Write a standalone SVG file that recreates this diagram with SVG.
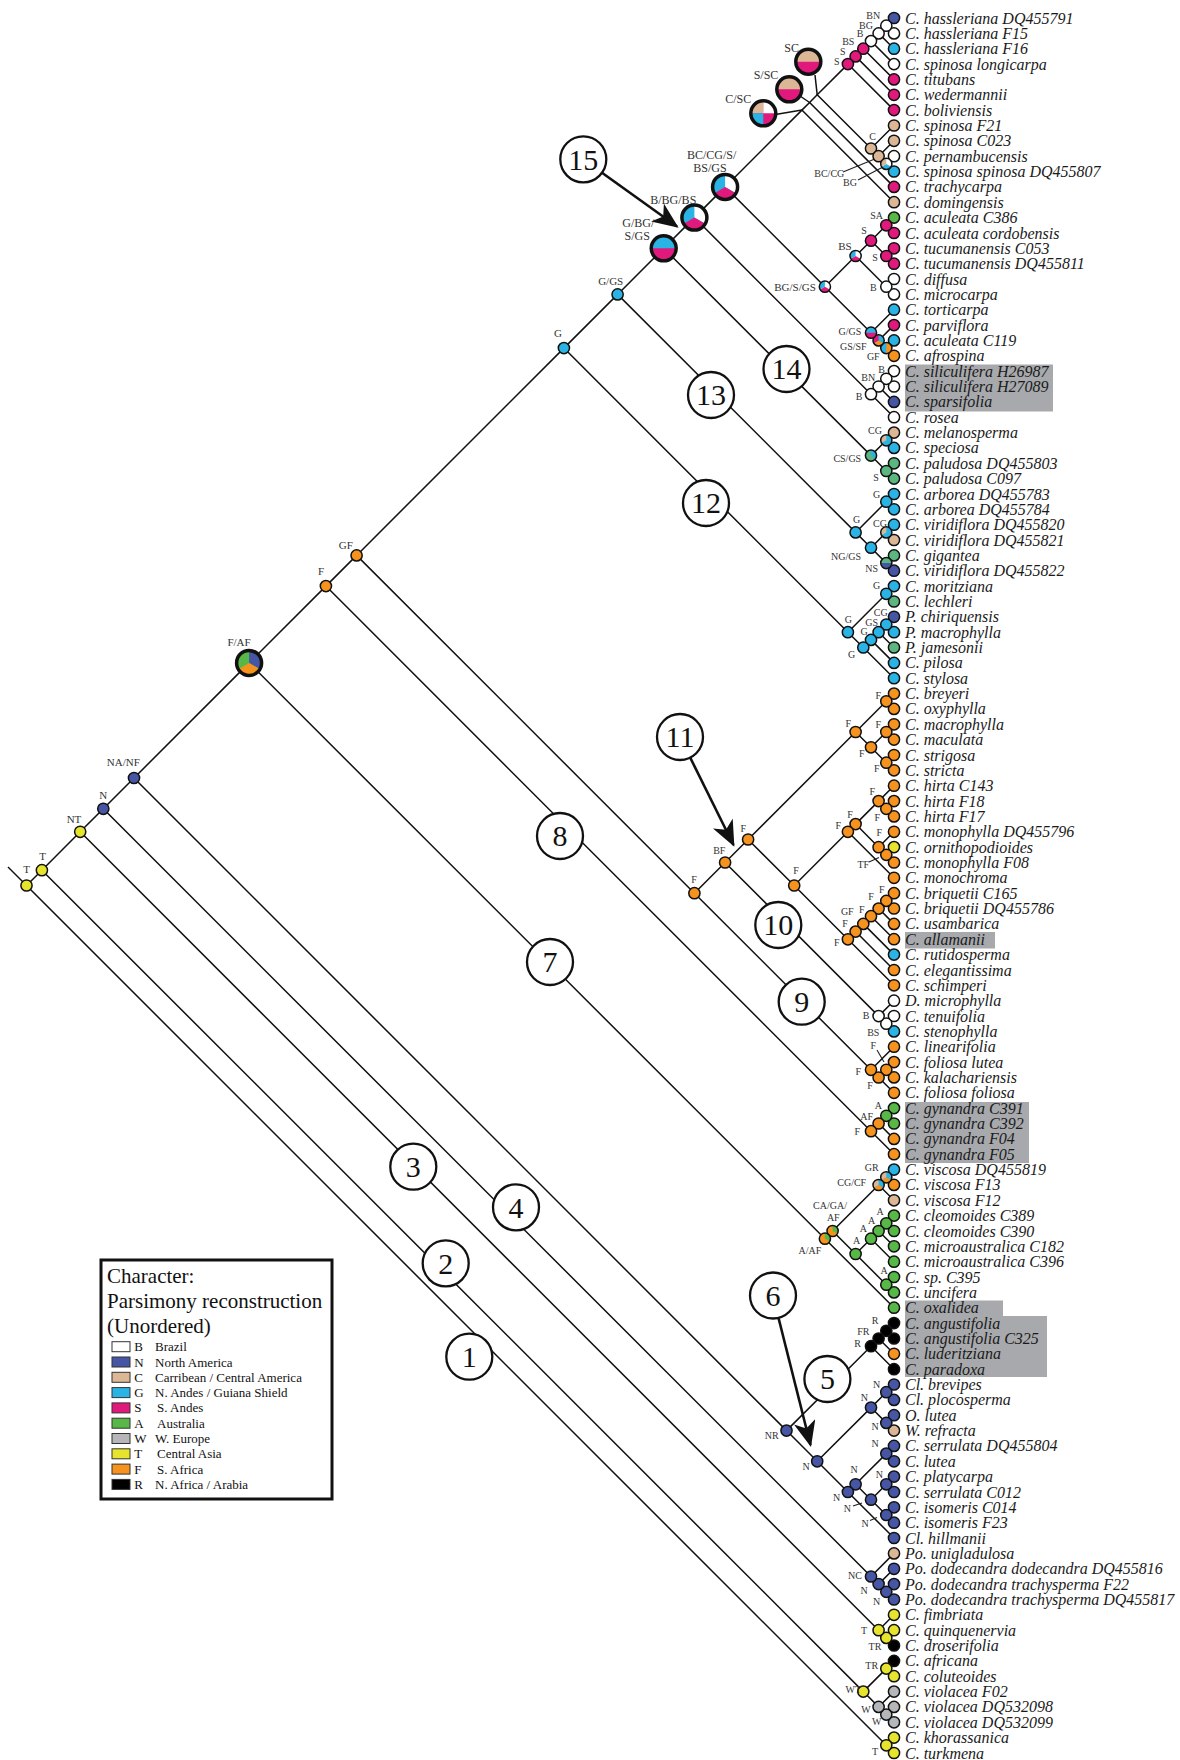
<svg xmlns="http://www.w3.org/2000/svg" width="1180" height="1760" viewBox="0 0 1180 1760">
<style>
.ln{fill:none;stroke:#111;stroke-width:1.5}
.ld{fill:none;stroke:#222;stroke-width:1.1}
.nd{stroke:#111;stroke-width:1.5}
.ol{fill:none;stroke:#111;stroke-width:1.5}
.olb{fill:none;stroke:#111;stroke-width:3.5}
.B{fill:#ffffff}.N{fill:#4656a5}.C{fill:#dcb795}.G{fill:#2ab4e6}.S{fill:#e2197c}.A{fill:#57b847}.A2{fill:#5bb67f}.W{fill:#b4b6b9}.T{fill:#e6e42c}.F{fill:#f6921e}.R{fill:#000000}
.tx{font-family:"Liberation Serif",serif;font-style:italic;font-size:16px;fill:#1a1a1a}
.lb{font-family:"Liberation Serif",serif;font-size:10px;fill:#333;text-anchor:middle}
.lm{font-family:"Liberation Serif",serif;font-size:11px;fill:#333;text-anchor:middle}
.lg{font-family:"Liberation Serif",serif;font-size:12px;fill:#333;text-anchor:middle}
.nc{fill:#fff;stroke:#111;stroke-width:2.3}
.num{font-family:"Liberation Serif",serif;font-size:30px;fill:#111;text-anchor:middle}
.hl{fill:#a7a9ac}
.arr{fill:none;stroke:#111;stroke-width:2.6}
.lgt{font-family:"Liberation Serif",serif;font-size:21px;fill:#111}
.lgi{font-family:"Liberation Serif",serif;font-size:13px;fill:#111}
.sw{stroke:#333;stroke-width:1}
</style>
<defs>
<marker id="ah" markerUnits="userSpaceOnUse" markerWidth="30" markerHeight="24" refX="24" refY="11" orient="auto"><path d="M0,0 L26,11 L0,22 L7,11 Z" fill="#111"/></marker>
<path id="sT" d="M-5.6 0A5.6 5.6 0 0 1 5.6 0Z"/>
<path id="sL" d="M0 -5.6A5.6 5.6 0 0 0 0 5.6Z"/>
<path id="s1" d="M0 0L0 -5.6A5.6 5.6 0 0 1 4.85 2.8Z"/>
<path id="s2" d="M0 0L4.85 2.8A5.6 5.6 0 0 1 -4.85 2.8Z"/>
<path id="s3" d="M0 0L-4.85 2.8A5.6 5.6 0 0 1 0 -5.6Z"/>
<path id="bT" d="M-12.5 0A12.5 12.5 0 0 1 12.5 0Z"/>
<path id="b1" d="M0 0L0 -12.5A12.5 12.5 0 0 1 10.83 6.25Z"/>
<path id="b2" d="M0 0L10.83 6.25A12.5 12.5 0 0 1 -10.83 6.25Z"/>
<path id="qTL" d="M0 0L-12.5 0A12.5 12.5 0 0 1 0 -12.5Z"/>
<path id="qTR" d="M0 0L0 -12.5A12.5 12.5 0 0 1 12.5 0Z"/>
<path id="qBL" d="M0 0L0 12.5A12.5 12.5 0 0 1 -12.5 0Z"/>
</defs>
<rect width="1180" height="1760" fill="#fff"/>
<g id="highlights">
<rect class="hl" x="905" y="364.5" width="148" height="47"/>
<rect class="hl" x="905" y="932" width="90" height="16.5"/>
<rect class="hl" x="905" y="1102" width="124" height="61"/>
<rect class="hl" x="905" y="1300.5" width="98" height="17"/>
<rect class="hl" x="905" y="1316" width="142" height="61"/>
</g>
<g id="connectors">
<path class="ln" d="M8 867L26.5 885.5"/>
<path class="ln" d="M894 18L886.3 25.7L894 33.4"/>
<path class="ln" d="M886.3 25.7L878.6 33.4L894 48.7"/>
<path class="ln" d="M878.6 33.4L871 41.1L894 64.1"/>
<path class="ln" d="M871 41.1L863.3 48.7L894 79.4"/>
<path class="ln" d="M863.3 48.7L855.6 56.4L894 94.8"/>
<path class="ln" d="M855.6 56.4L847.9 64.1L894 110.1"/>
<path class="ln" d="M894 156.2L886.3 163.9L894 171.5"/>
<path class="ln" d="M894 140.8L878.6 156.2L886.3 163.9"/>
<path class="ln" d="M894 125.5L871 148.5L878.6 156.2"/>
<path class="ln" d="M847.9 64.1L817.2 94.8L871 148.5"/>
<path class="ln" d="M817.2 94.8L809.6 102.5L894 186.9"/>
<path class="ln" d="M809.6 102.5L801.9 110.1L894 202.2"/>
<path class="ln" d="M894 217.6L886.3 225.3L894 233"/>
<path class="ln" d="M894 248.3L886.3 256L894 263.7"/>
<path class="ln" d="M886.3 225.3L871 240.7L886.3 256"/>
<path class="ln" d="M894 279L886.3 286.7L894 294.4"/>
<path class="ln" d="M871 240.7L855.6 256L886.3 286.7"/>
<path class="ln" d="M894 340.4L886.3 348.1L894 355.8"/>
<path class="ln" d="M894 325.1L878.6 340.4L886.3 348.1"/>
<path class="ln" d="M894 309.7L871 332.7L878.6 340.4"/>
<path class="ln" d="M855.6 256L824.9 286.7L871 332.7"/>
<path class="ln" d="M801.9 110.1L725.1 186.9L824.9 286.7"/>
<path class="ln" d="M894 371.1L886.3 378.8L894 386.5"/>
<path class="ln" d="M886.3 378.8L878.6 386.5L894 401.9"/>
<path class="ln" d="M878.6 386.5L871 394.2L894 417.2"/>
<path class="ln" d="M725.1 186.9L694.4 217.6L871 394.2"/>
<path class="ln" d="M894 432.6L886.3 440.3L894 447.9"/>
<path class="ln" d="M894 463.3L886.3 471L894 478.6"/>
<path class="ln" d="M886.3 440.3L871 455.6L886.3 471"/>
<path class="ln" d="M694.4 217.6L663.7 248.3L871 455.6"/>
<path class="ln" d="M894 494L886.3 501.7L894 509.3"/>
<path class="ln" d="M894 524.7L886.3 532.4L894 540"/>
<path class="ln" d="M894 555.4L886.3 563.1L894 570.7"/>
<path class="ln" d="M886.3 532.4L871 547.7L886.3 563.1"/>
<path class="ln" d="M886.3 501.7L855.6 532.4L871 547.7"/>
<path class="ln" d="M663.7 248.3L617.6 294.4L855.6 532.4"/>
<path class="ln" d="M894 586.1L886.3 593.8L894 601.5"/>
<path class="ln" d="M894 616.8L886.3 624.5L894 632.2"/>
<path class="ln" d="M886.3 624.5L878.6 632.2L894 647.5"/>
<path class="ln" d="M878.6 632.2L871 639.9L894 662.9"/>
<path class="ln" d="M871 639.9L863.3 647.5L894 678.2"/>
<path class="ln" d="M886.3 593.8L847.9 632.2L863.3 647.5"/>
<path class="ln" d="M617.6 294.4L563.9 348.1L847.9 632.2"/>
<path class="ln" d="M894 693.6L886.3 701.3L894 708.9"/>
<path class="ln" d="M894 724.3L886.3 732L894 739.6"/>
<path class="ln" d="M894 755L886.3 762.7L894 770.3"/>
<path class="ln" d="M886.3 732L871 747.3L886.3 762.7"/>
<path class="ln" d="M886.3 701.3L855.6 732L871 747.3"/>
<path class="ln" d="M894 801.1L886.3 808.8L894 816.4"/>
<path class="ln" d="M894 785.7L878.6 801.1L886.3 808.8"/>
<path class="ln" d="M894 847.1L886.3 854.8L894 862.5"/>
<path class="ln" d="M894 831.8L878.6 847.2L886.3 854.8"/>
<path class="ln" d="M878.6 801.1L855.6 824.1L878.6 847.2"/>
<path class="ln" d="M855.6 824.1L847.9 831.8L894 877.8"/>
<path class="ln" d="M894 893.2L886.3 900.9L894 908.5"/>
<path class="ln" d="M886.3 900.9L878.6 908.6L894 923.9"/>
<path class="ln" d="M878.6 908.6L871 916.2L894 939.2"/>
<path class="ln" d="M871 916.2L863.3 923.9L894 954.6"/>
<path class="ln" d="M863.3 923.9L855.6 931.6L894 970"/>
<path class="ln" d="M855.6 931.6L847.9 939.3L894 985.3"/>
<path class="ln" d="M847.9 831.8L794.2 885.5L847.9 939.3"/>
<path class="ln" d="M855.6 732L748.1 839.5L794.2 885.5"/>
<path class="ln" d="M894 1016L886.3 1023.7L894 1031.4"/>
<path class="ln" d="M894 1000.7L878.6 1016.1L886.3 1023.7"/>
<path class="ln" d="M748.1 839.5L725.1 862.5L878.6 1016.1"/>
<path class="ln" d="M894 1062.1L886.3 1069.8L894 1077.4"/>
<path class="ln" d="M886.3 1069.8L878.6 1077.5L894 1092.8"/>
<path class="ln" d="M894 1046.7L871 1069.8L878.6 1077.5"/>
<path class="ln" d="M725.1 862.5L694.4 893.2L871 1069.8"/>
<path class="ln" d="M563.9 348.1L356.6 555.4L694.4 893.2"/>
<path class="ln" d="M894 1108.1L886.3 1115.8L894 1123.5"/>
<path class="ln" d="M886.3 1115.8L878.6 1123.5L894 1138.9"/>
<path class="ln" d="M878.6 1123.5L871 1131.2L894 1154.2"/>
<path class="ln" d="M356.6 555.4L325.9 586.1L871 1131.2"/>
<path class="ln" d="M894 1169.6L886.3 1177.3L894 1184.9"/>
<path class="ln" d="M886.3 1177.3L878.6 1185L894 1200.3"/>
<path class="ln" d="M894 1215.6L886.3 1223.3L894 1231"/>
<path class="ln" d="M886.3 1223.3L878.6 1231L894 1246.3"/>
<path class="ln" d="M878.6 1231L871 1238.7L894 1261.7"/>
<path class="ln" d="M894 1277L886.3 1284.7L894 1292.4"/>
<path class="ln" d="M871 1238.7L855.6 1254L886.3 1284.7"/>
<path class="ln" d="M878.6 1185L832.6 1231L855.6 1254"/>
<path class="ln" d="M832.6 1231L824.9 1238.7L894 1307.7"/>
<path class="ln" d="M325.9 586.1L249.1 662.9L824.9 1238.7"/>
<path class="ln" d="M894 1323.1L886.3 1330.8L894 1338.5"/>
<path class="ln" d="M886.3 1330.8L878.6 1338.5L894 1353.8"/>
<path class="ln" d="M878.6 1338.5L871 1346.2L894 1369.2"/>
<path class="ln" d="M894 1384.5L886.3 1392.2L894 1399.9"/>
<path class="ln" d="M894 1415.2L886.3 1422.9L894 1430.6"/>
<path class="ln" d="M886.3 1392.2L871 1407.6L886.3 1422.9"/>
<path class="ln" d="M894 1445.9L886.3 1453.6L894 1461.3"/>
<path class="ln" d="M894 1476.6L886.3 1484.3L894 1492"/>
<path class="ln" d="M894 1507.3L886.3 1515L894 1522.7"/>
<path class="ln" d="M886.3 1484.3L871 1499.7L886.3 1515"/>
<path class="ln" d="M886.3 1453.6L855.6 1484.3L871 1499.7"/>
<path class="ln" d="M855.6 1484.3L847.9 1492L894 1538"/>
<path class="ln" d="M871 1407.6L817.2 1461.3L847.9 1492"/>
<path class="ln" d="M871 1346.2L786.5 1430.6L817.2 1461.3"/>
<path class="ln" d="M249.1 662.9L134 778L786.5 1430.6"/>
<path class="ln" d="M894 1584.1L886.3 1591.8L894 1599.5"/>
<path class="ln" d="M894 1568.8L878.6 1584.1L886.3 1591.8"/>
<path class="ln" d="M894 1553.4L871 1576.5L878.6 1584.1"/>
<path class="ln" d="M134 778L103.3 808.8L871 1576.5"/>
<path class="ln" d="M894 1630.2L886.3 1637.9L894 1645.5"/>
<path class="ln" d="M894 1614.8L878.6 1630.2L886.3 1637.9"/>
<path class="ln" d="M103.3 808.8L80.2 831.8L878.6 1630.2"/>
<path class="ln" d="M894 1660.9L886.3 1668.6L894 1676.2"/>
<path class="ln" d="M894 1706.9L886.3 1714.6L894 1722.3"/>
<path class="ln" d="M894 1691.6L878.6 1706.9L886.3 1714.6"/>
<path class="ln" d="M886.3 1668.6L863.3 1691.6L878.6 1706.9"/>
<path class="ln" d="M80.2 831.8L41.9 870.2L863.3 1691.6"/>
<path class="ln" d="M894 1737.6L886.3 1745.3L894 1753"/>
<path class="ln" d="M41.9 870.2L26.5 885.5L886.3 1745.3"/>
<path class="ln" d="M815 75L817.2 94.8"/>
<path class="ln" d="M800 96L809.6 102.5"/>
<path class="ln" d="M775.5 114.5L801.9 110.1"/>
<path class="ld" d="M843 172L876 158.5"/>
<path class="ld" d="M858 180L883 167"/>
<path class="ld" d="M869 862L879 857.5"/>
<path class="ld" d="M877 1050L884 1062"/>
<path class="ld" d="M853 1506L862 1503"/>
<path class="ld" d="M870 1520.5L877 1517.5"/>
</g>
<g id="leaves">
<g id="L0"><circle class="nd N" cx="894" cy="18" r="5.6"/><text class="tx" x="905" y="23.5">C. hassleriana DQ455791</text></g>
<g id="L1"><circle class="nd B" cx="894" cy="33.4" r="5.6"/><text class="tx" x="905" y="38.9">C. hassleriana F15</text></g>
<g id="L2"><circle class="nd G" cx="894" cy="48.7" r="5.6"/><text class="tx" x="905" y="54.2">C. hassleriana F16</text></g>
<g id="L3"><circle class="nd B" cx="894" cy="64.1" r="5.6"/><text class="tx" x="905" y="69.6">C. spinosa longicarpa</text></g>
<g id="L4"><circle class="nd S" cx="894" cy="79.4" r="5.6"/><text class="tx" x="905" y="84.9">C. titubans</text></g>
<g id="L5"><circle class="nd S" cx="894" cy="94.8" r="5.6"/><text class="tx" x="905" y="100.3">C. wedermannii</text></g>
<g id="L6"><circle class="nd S" cx="894" cy="110.1" r="5.6"/><text class="tx" x="905" y="115.6">C. boliviensis</text></g>
<g id="L7"><circle class="nd C" cx="894" cy="125.5" r="5.6"/><text class="tx" x="905" y="131">C. spinosa F21</text></g>
<g id="L8"><circle class="nd C" cx="894" cy="140.8" r="5.6"/><text class="tx" x="905" y="146.3">C. spinosa C023</text></g>
<g id="L9"><circle class="nd B" cx="894" cy="156.2" r="5.6"/><text class="tx" x="905" y="161.7">C. pernambucensis</text></g>
<g id="L10"><circle class="nd G" cx="894" cy="171.5" r="5.6"/><text class="tx" x="905" y="177">C. spinosa spinosa DQ455807</text></g>
<g id="L11"><circle class="nd S" cx="894" cy="186.9" r="5.6"/><text class="tx" x="905" y="192.4">C. trachycarpa</text></g>
<g id="L12"><circle class="nd C" cx="894" cy="202.2" r="5.6"/><text class="tx" x="905" y="207.7">C. domingensis</text></g>
<g id="L13"><circle class="nd A" cx="894" cy="217.6" r="5.6"/><text class="tx" x="905" y="223.1">C. aculeata C386</text></g>
<g id="L14"><circle class="nd S" cx="894" cy="233" r="5.6"/><text class="tx" x="905" y="238.5">C. aculeata cordobensis</text></g>
<g id="L15"><circle class="nd S" cx="894" cy="248.3" r="5.6"/><text class="tx" x="905" y="253.8">C. tucumanensis C053</text></g>
<g id="L16"><circle class="nd S" cx="894" cy="263.7" r="5.6"/><text class="tx" x="905" y="269.2">C. tucumanensis DQ455811</text></g>
<g id="L17"><circle class="nd B" cx="894" cy="279" r="5.6"/><text class="tx" x="905" y="284.5">C. diffusa</text></g>
<g id="L18"><circle class="nd B" cx="894" cy="294.4" r="5.6"/><text class="tx" x="905" y="299.9">C. microcarpa</text></g>
<g id="L19"><circle class="nd G" cx="894" cy="309.7" r="5.6"/><text class="tx" x="905" y="315.2">C. torticarpa</text></g>
<g id="L20"><circle class="nd S" cx="894" cy="325.1" r="5.6"/><text class="tx" x="905" y="330.6">C. parviflora</text></g>
<g id="L21"><circle class="nd G" cx="894" cy="340.4" r="5.6"/><text class="tx" x="905" y="345.9">C. aculeata C119</text></g>
<g id="L22"><circle class="nd F" cx="894" cy="355.8" r="5.6"/><text class="tx" x="905" y="361.3">C. afrospina</text></g>
<g id="L23"><circle class="nd B" cx="894" cy="371.1" r="5.6"/><text class="tx" x="905" y="376.6">C. siliculifera H26987</text></g>
<g id="L24"><circle class="nd B" cx="894" cy="386.5" r="5.6"/><text class="tx" x="905" y="392">C. siliculifera H27089</text></g>
<g id="L25"><circle class="nd N" cx="894" cy="401.9" r="5.6"/><text class="tx" x="905" y="407.4">C. sparsifolia</text></g>
<g id="L26"><circle class="nd B" cx="894" cy="417.2" r="5.6"/><text class="tx" x="905" y="422.7">C. rosea</text></g>
<g id="L27"><circle class="nd C" cx="894" cy="432.6" r="5.6"/><text class="tx" x="905" y="438.1">C. melanosperma</text></g>
<g id="L28"><circle class="nd G" cx="894" cy="447.9" r="5.6"/><text class="tx" x="905" y="453.4">C. speciosa</text></g>
<g id="L29"><circle class="nd A2" cx="894" cy="463.3" r="5.6"/><text class="tx" x="905" y="468.8">C. paludosa DQ455803</text></g>
<g id="L30"><circle class="nd A2" cx="894" cy="478.6" r="5.6"/><text class="tx" x="905" y="484.1">C. paludosa C097</text></g>
<g id="L31"><circle class="nd G" cx="894" cy="494" r="5.6"/><text class="tx" x="905" y="499.5">C. arborea DQ455783</text></g>
<g id="L32"><circle class="nd G" cx="894" cy="509.3" r="5.6"/><text class="tx" x="905" y="514.8">C. arborea DQ455784</text></g>
<g id="L33"><circle class="nd G" cx="894" cy="524.7" r="5.6"/><text class="tx" x="905" y="530.2">C. viridiflora DQ455820</text></g>
<g id="L34"><circle class="nd C" cx="894" cy="540" r="5.6"/><text class="tx" x="905" y="545.5">C. viridiflora DQ455821</text></g>
<g id="L35"><circle class="nd A2" cx="894" cy="555.4" r="5.6"/><text class="tx" x="905" y="560.9">C. gigantea</text></g>
<g id="L36"><circle class="nd N" cx="894" cy="570.7" r="5.6"/><text class="tx" x="905" y="576.2">C. viridiflora DQ455822</text></g>
<g id="L37"><circle class="nd G" cx="894" cy="586.1" r="5.6"/><text class="tx" x="905" y="591.6">C. moritziana</text></g>
<g id="L38"><circle class="nd A2" cx="894" cy="601.5" r="5.6"/><text class="tx" x="905" y="607">C. lechleri</text></g>
<g id="L39"><circle class="nd N" cx="894" cy="616.8" r="5.6"/><text class="tx" x="905" y="622.3">P. chiriquensis</text></g>
<g id="L40"><circle class="nd G" cx="894" cy="632.2" r="5.6"/><text class="tx" x="905" y="637.7">P. macrophylla</text></g>
<g id="L41"><circle class="nd A2" cx="894" cy="647.5" r="5.6"/><text class="tx" x="905" y="653">P. jamesonii</text></g>
<g id="L42"><circle class="nd G" cx="894" cy="662.9" r="5.6"/><text class="tx" x="905" y="668.4">C. pilosa</text></g>
<g id="L43"><circle class="nd G" cx="894" cy="678.2" r="5.6"/><text class="tx" x="905" y="683.7">C. stylosa</text></g>
<g id="L44"><circle class="nd F" cx="894" cy="693.6" r="5.6"/><text class="tx" x="905" y="699.1">C. breyeri</text></g>
<g id="L45"><circle class="nd F" cx="894" cy="708.9" r="5.6"/><text class="tx" x="905" y="714.4">C. oxyphylla</text></g>
<g id="L46"><circle class="nd F" cx="894" cy="724.3" r="5.6"/><text class="tx" x="905" y="729.8">C. macrophylla</text></g>
<g id="L47"><circle class="nd F" cx="894" cy="739.6" r="5.6"/><text class="tx" x="905" y="745.1">C. maculata</text></g>
<g id="L48"><circle class="nd F" cx="894" cy="755" r="5.6"/><text class="tx" x="905" y="760.5">C. strigosa</text></g>
<g id="L49"><circle class="nd F" cx="894" cy="770.3" r="5.6"/><text class="tx" x="905" y="775.8">C. stricta</text></g>
<g id="L50"><circle class="nd F" cx="894" cy="785.7" r="5.6"/><text class="tx" x="905" y="791.2">C. hirta C143</text></g>
<g id="L51"><circle class="nd F" cx="894" cy="801.1" r="5.6"/><text class="tx" x="905" y="806.6">C. hirta F18</text></g>
<g id="L52"><circle class="nd F" cx="894" cy="816.4" r="5.6"/><text class="tx" x="905" y="821.9">C. hirta F17</text></g>
<g id="L53"><circle class="nd F" cx="894" cy="831.8" r="5.6"/><text class="tx" x="905" y="837.3">C. monophylla DQ455796</text></g>
<g id="L54"><circle class="nd T" cx="894" cy="847.1" r="5.6"/><text class="tx" x="905" y="852.6">C. ornithopodioides</text></g>
<g id="L55"><circle class="nd F" cx="894" cy="862.5" r="5.6"/><text class="tx" x="905" y="868">C. monophylla F08</text></g>
<g id="L56"><circle class="nd F" cx="894" cy="877.8" r="5.6"/><text class="tx" x="905" y="883.3">C. monochroma</text></g>
<g id="L57"><circle class="nd F" cx="894" cy="893.2" r="5.6"/><text class="tx" x="905" y="898.7">C. briquetii C165</text></g>
<g id="L58"><circle class="nd F" cx="894" cy="908.5" r="5.6"/><text class="tx" x="905" y="914">C. briquetii DQ455786</text></g>
<g id="L59"><circle class="nd F" cx="894" cy="923.9" r="5.6"/><text class="tx" x="905" y="929.4">C. usambarica</text></g>
<g id="L60"><circle class="nd F" cx="894" cy="939.2" r="5.6"/><text class="tx" x="905" y="944.7">C. allamanii</text></g>
<g id="L61"><circle class="nd G" cx="894" cy="954.6" r="5.6"/><text class="tx" x="905" y="960.1">C. rutidosperma</text></g>
<g id="L62"><circle class="nd F" cx="894" cy="970" r="5.6"/><text class="tx" x="905" y="975.5">C. elegantissima</text></g>
<g id="L63"><circle class="nd F" cx="894" cy="985.3" r="5.6"/><text class="tx" x="905" y="990.8">C. schimperi</text></g>
<g id="L64"><circle class="nd B" cx="894" cy="1000.7" r="5.6"/><text class="tx" x="905" y="1006.2">D. microphylla</text></g>
<g id="L65"><circle class="nd B" cx="894" cy="1016" r="5.6"/><text class="tx" x="905" y="1021.5">C. tenuifolia</text></g>
<g id="L66"><circle class="nd G" cx="894" cy="1031.4" r="5.6"/><text class="tx" x="905" y="1036.9">C. stenophylla</text></g>
<g id="L67"><circle class="nd F" cx="894" cy="1046.7" r="5.6"/><text class="tx" x="905" y="1052.2">C. linearifolia</text></g>
<g id="L68"><circle class="nd F" cx="894" cy="1062.1" r="5.6"/><text class="tx" x="905" y="1067.6">C. foliosa lutea</text></g>
<g id="L69"><circle class="nd F" cx="894" cy="1077.4" r="5.6"/><text class="tx" x="905" y="1082.9">C. kalachariensis</text></g>
<g id="L70"><circle class="nd F" cx="894" cy="1092.8" r="5.6"/><text class="tx" x="905" y="1098.3">C. foliosa foliosa</text></g>
<g id="L71"><circle class="nd A" cx="894" cy="1108.1" r="5.6"/><text class="tx" x="905" y="1113.6">C. gynandra C391</text></g>
<g id="L72"><circle class="nd A" cx="894" cy="1123.5" r="5.6"/><text class="tx" x="905" y="1129">C. gynandra C392</text></g>
<g id="L73"><circle class="nd F" cx="894" cy="1138.9" r="5.6"/><text class="tx" x="905" y="1144.4">C. gynandra F04</text></g>
<g id="L74"><circle class="nd F" cx="894" cy="1154.2" r="5.6"/><text class="tx" x="905" y="1159.7">C. gynandra F05</text></g>
<g id="L75"><circle class="nd G" cx="894" cy="1169.6" r="5.6"/><text class="tx" x="905" y="1175.1">C. viscosa DQ455819</text></g>
<g id="L76"><circle class="nd F" cx="894" cy="1184.9" r="5.6"/><text class="tx" x="905" y="1190.4">C. viscosa F13</text></g>
<g id="L77"><circle class="nd C" cx="894" cy="1200.3" r="5.6"/><text class="tx" x="905" y="1205.8">C. viscosa F12</text></g>
<g id="L78"><circle class="nd A" cx="894" cy="1215.6" r="5.6"/><text class="tx" x="905" y="1221.1">C. cleomoides C389</text></g>
<g id="L79"><circle class="nd A" cx="894" cy="1231" r="5.6"/><text class="tx" x="905" y="1236.5">C. cleomoides C390</text></g>
<g id="L80"><circle class="nd A" cx="894" cy="1246.3" r="5.6"/><text class="tx" x="905" y="1251.8">C. microaustralica C182</text></g>
<g id="L81"><circle class="nd A" cx="894" cy="1261.7" r="5.6"/><text class="tx" x="905" y="1267.2">C. microaustralica C396</text></g>
<g id="L82"><circle class="nd A" cx="894" cy="1277" r="5.6"/><text class="tx" x="905" y="1282.5">C. sp. C395</text></g>
<g id="L83"><circle class="nd A" cx="894" cy="1292.4" r="5.6"/><text class="tx" x="905" y="1297.9">C. uncifera</text></g>
<g id="L84"><circle class="nd A" cx="894" cy="1307.7" r="5.6"/><text class="tx" x="905" y="1313.2">C. oxalidea</text></g>
<g id="L85"><circle class="nd R" cx="894" cy="1323.1" r="5.6"/><text class="tx" x="905" y="1328.6">C. angustifolia</text></g>
<g id="L86"><circle class="nd R" cx="894" cy="1338.5" r="5.6"/><text class="tx" x="905" y="1344">C. angustifolia C325</text></g>
<g id="L87"><circle class="nd F" cx="894" cy="1353.8" r="5.6"/><text class="tx" x="905" y="1359.3">C. luderitziana</text></g>
<g id="L88"><circle class="nd R" cx="894" cy="1369.2" r="5.6"/><text class="tx" x="905" y="1374.7">C. paradoxa</text></g>
<g id="L89"><circle class="nd N" cx="894" cy="1384.5" r="5.6"/><text class="tx" x="905" y="1390">Cl. brevipes</text></g>
<g id="L90"><circle class="nd N" cx="894" cy="1399.9" r="5.6"/><text class="tx" x="905" y="1405.4">Cl. plocosperma</text></g>
<g id="L91"><circle class="nd N" cx="894" cy="1415.2" r="5.6"/><text class="tx" x="905" y="1420.7">O. lutea</text></g>
<g id="L92"><circle class="nd C" cx="894" cy="1430.6" r="5.6"/><text class="tx" x="905" y="1436.1">W. refracta</text></g>
<g id="L93"><circle class="nd N" cx="894" cy="1445.9" r="5.6"/><text class="tx" x="905" y="1451.4">C. serrulata DQ455804</text></g>
<g id="L94"><circle class="nd N" cx="894" cy="1461.3" r="5.6"/><text class="tx" x="905" y="1466.8">C. lutea</text></g>
<g id="L95"><circle class="nd N" cx="894" cy="1476.6" r="5.6"/><text class="tx" x="905" y="1482.1">C. platycarpa</text></g>
<g id="L96"><circle class="nd N" cx="894" cy="1492" r="5.6"/><text class="tx" x="905" y="1497.5">C. serrulata C012</text></g>
<g id="L97"><circle class="nd N" cx="894" cy="1507.3" r="5.6"/><text class="tx" x="905" y="1512.8">C. isomeris C014</text></g>
<g id="L98"><circle class="nd N" cx="894" cy="1522.7" r="5.6"/><text class="tx" x="905" y="1528.2">C. isomeris F23</text></g>
<g id="L99"><circle class="nd N" cx="894" cy="1538" r="5.6"/><text class="tx" x="905" y="1543.5">Cl. hillmanii</text></g>
<g id="L100"><circle class="nd C" cx="894" cy="1553.4" r="5.6"/><text class="tx" x="905" y="1558.9">Po. unigladulosa</text></g>
<g id="L101"><circle class="nd N" cx="894" cy="1568.8" r="5.6"/><text class="tx" x="905" y="1574.3">Po. dodecandra dodecandra DQ455816</text></g>
<g id="L102"><circle class="nd N" cx="894" cy="1584.1" r="5.6"/><text class="tx" x="905" y="1589.6">Po. dodecandra trachysperma F22</text></g>
<g id="L103"><circle class="nd N" cx="894" cy="1599.5" r="5.6"/><text class="tx" x="905" y="1605">Po. dodecandra trachysperma DQ455817</text></g>
<g id="L104"><circle class="nd T" cx="894" cy="1614.8" r="5.6"/><text class="tx" x="905" y="1620.3">C. fimbriata</text></g>
<g id="L105"><circle class="nd T" cx="894" cy="1630.2" r="5.6"/><text class="tx" x="905" y="1635.7">C. quinquenervia</text></g>
<g id="L106"><circle class="nd R" cx="894" cy="1645.5" r="5.6"/><text class="tx" x="905" y="1651">C. droserifolia</text></g>
<g id="L107"><circle class="nd R" cx="894" cy="1660.9" r="5.6"/><text class="tx" x="905" y="1666.4">C. africana</text></g>
<g id="L108"><circle class="nd T" cx="894" cy="1676.2" r="5.6"/><text class="tx" x="905" y="1681.7">C. coluteoides</text></g>
<g id="L109"><circle class="nd W" cx="894" cy="1691.6" r="5.6"/><text class="tx" x="905" y="1697.1">C. violacea F02</text></g>
<g id="L110"><circle class="nd W" cx="894" cy="1706.9" r="5.6"/><text class="tx" x="905" y="1712.4">C. violacea DQ532098</text></g>
<g id="L111"><circle class="nd W" cx="894" cy="1722.3" r="5.6"/><text class="tx" x="905" y="1727.8">C. violacea DQ532099</text></g>
<g id="L112"><circle class="nd T" cx="894" cy="1737.6" r="5.6"/><text class="tx" x="905" y="1743.1">C. khorassanica</text></g>
<g id="L113"><circle class="nd T" cx="894" cy="1753" r="5.6"/><text class="tx" x="905" y="1758.5">C. turkmena</text></g>
</g>
<g id="internal-nodes">
<g id="n1"><circle class="nd B" cx="886.3" cy="25.7" r="5.6"/><text class="lb" x="873.3" y="18.5">BN</text></g>
<g id="n2"><circle class="nd B" cx="878.6" cy="33.4" r="5.6"/><text class="lb" x="866" y="28.5">BG</text></g>
<g id="n3"><circle class="nd B" cx="871" cy="41.1" r="5.6"/><text class="lb" x="860" y="36.8">B</text></g>
<g id="n4"><circle class="nd S" cx="863.3" cy="48.7" r="5.6"/><text class="lb" x="848.3" y="45.2">BS</text></g>
<g id="n5"><circle class="nd S" cx="855.6" cy="56.4" r="5.6"/><text class="lb" x="842.7" y="55.2">S</text></g>
<g id="n6"><circle class="nd S" cx="847.9" cy="64.1" r="5.6"/><text class="lb" x="836.7" y="65.2">S</text></g>
<g id="n9"><circle class="nd C" cx="871" cy="148.5" r="5.6"/><text class="lb" x="872.7" y="139.5">C</text></g>
<g id="n8"><circle class="nd C" cx="878.6" cy="156.2" r="5.6"/><text class="lb" x="829.3" y="176.8">BC/CG</text></g>
<g id="n7"><g transform="translate(886.3 163.9)"><circle r="5.6" class="B"/><use href="#s2" class="G"/><use href="#s3" class="C"/><circle r="5.6" class="ol"/></g><text class="lb" x="850" y="186.2">BG</text></g>
<g id="n10"><g transform="translate(808.3 61.7)"><circle r="12.5" class="S"/><use href="#bT" class="C"/><circle r="12.5" class="olb"/></g><text class="lg" x="791.7" y="51.5">SC</text></g>
<g id="n11"><g transform="translate(789.3 89.3)"><circle r="12.5" class="S"/><use href="#bT" class="C"/><circle r="12.5" class="olb"/></g><text class="lg" x="766" y="79">S/SC</text></g>
<g id="n12"><g transform="translate(763.3 113.3)"><circle r="12.5" class="S"/><use href="#qTL" class="C"/><use href="#qTR" class="B"/><use href="#qBL" class="G"/><circle r="12.5" class="olb"/></g><text class="lg" x="738.3" y="103">C/SC</text></g>
<g id="n13"><circle class="nd S" cx="886.3" cy="225.3" r="5.6"/><text class="lb" x="876.7" y="218.5">SA</text></g>
<g id="n14"><circle class="nd S" cx="886.3" cy="256" r="5.6"/><text class="lb" x="875" y="260.8">S</text></g>
<g id="n15"><circle class="nd S" cx="871" cy="240.7" r="5.6"/><text class="lb" x="864" y="233.5">S</text></g>
<g id="n16"><circle class="nd B" cx="886.3" cy="286.7" r="5.6"/><text class="lb" x="873.3" y="290.8">B</text></g>
<g id="n17"><g transform="translate(855.6 256)"><circle r="5.6" class="B"/><use href="#s2" class="S"/><use href="#s3" class="G"/><circle r="5.6" class="ol"/></g><text class="lm" x="845" y="250.2">BS</text></g>
<g id="n18"><g transform="translate(886.3 348.1)"><circle r="5.6" class="F"/><use href="#sL" class="G"/><circle r="5.6" class="ol"/></g><text class="lb" x="873.3" y="360.2">GF</text></g>
<g id="n19"><g transform="translate(878.6 340.4)"><circle r="5.6" class="G"/><use href="#s2" class="F"/><use href="#s3" class="S"/><circle r="5.6" class="ol"/></g><text class="lb" x="853.3" y="349.5">GS/SF</text></g>
<g id="n20"><g transform="translate(871 332.7)"><circle r="5.6" class="S"/><use href="#sT" class="G"/><circle r="5.6" class="ol"/></g><text class="lb" x="850" y="335.2">G/GS</text></g>
<g id="n21"><g transform="translate(824.9 286.7)"><circle r="5.6" class="B"/><use href="#s2" class="S"/><use href="#s3" class="G"/><circle r="5.6" class="ol"/></g><text class="lm" x="795" y="290.8">BG/S/GS</text></g>
<g id="n22"><g transform="translate(725.1 186.9)"><circle r="12.5" class="G"/><use href="#b1" class="B"/><use href="#b2" class="S"/><circle r="12.5" class="olb"/></g><text class="lg" x="711.7" y="158.5">BC/CG/S/</text><text class="lg" x="710" y="171.8">BS/GS</text></g>
<g id="n23"><circle class="nd B" cx="886.3" cy="378.8" r="5.6"/><text class="lb" x="881.7" y="372.5">B</text></g>
<g id="n24"><circle class="nd B" cx="878.6" cy="386.5" r="5.6"/><text class="lb" x="868.3" y="380.8">BN</text></g>
<g id="n25"><circle class="nd B" cx="871" cy="394.2" r="5.6"/><text class="lb" x="859" y="400.2">B</text></g>
<g id="n26"><g transform="translate(694.4 217.6)"><circle r="12.5" class="G"/><use href="#b1" class="B"/><use href="#b2" class="S"/><circle r="12.5" class="olb"/></g><text class="lg" x="673.3" y="203.5">B/BG/BS</text></g>
<g id="n27"><g transform="translate(886.3 440.3)"><circle r="5.6" class="G"/><use href="#s3" class="C"/><circle r="5.6" class="ol"/></g><text class="lb" x="875" y="433.5">CG</text></g>
<g id="n28"><circle class="nd A2" cx="886.3" cy="471" r="5.6"/><text class="lb" x="876" y="480.8">S</text></g>
<g id="n29"><g transform="translate(871 455.6)"><circle r="5.6" class="A2"/><use href="#s1" class="G"/><circle r="5.6" class="ol"/></g><text class="lb" x="847.3" y="461.8">CS/GS</text></g>
<g id="n30"><g transform="translate(663.7 248.3)"><circle r="12.5" class="S"/><use href="#bT" class="G"/><circle r="12.5" class="olb"/></g><text class="lg" x="638.3" y="226.8">G/BG/</text><text class="lg" x="637.3" y="240.2">S/GS</text></g>
<g id="n31"><circle class="nd G" cx="886.3" cy="501.7" r="5.6"/><text class="lb" x="876.7" y="497.5">G</text></g>
<g id="n32"><g transform="translate(886.3 532.4)"><circle r="5.6" class="G"/><use href="#s3" class="C"/><circle r="5.6" class="ol"/></g><text class="lb" x="880" y="526.8">CG</text></g>
<g id="n33"><g transform="translate(886.3 563.1)"><circle r="5.6" class="N"/><use href="#sT" class="A2"/><circle r="5.6" class="ol"/></g><text class="lb" x="871.7" y="571.8">NS</text></g>
<g id="n34"><circle class="nd G" cx="871" cy="547.7" r="5.6"/><text class="lb" x="846" y="560.2">NG/GS</text></g>
<g id="n35"><circle class="nd G" cx="855.6" cy="532.4" r="5.6"/><text class="lb" x="856.7" y="522.8">G</text></g>
<g id="n36"><circle class="nd G" cx="617.6" cy="294.4" r="5.6"/><text class="lm" x="610.7" y="285.2">G/GS</text></g>
<g id="n37"><circle class="nd G" cx="886.3" cy="593.8" r="5.6"/><text class="lb" x="876.7" y="588.5">G</text></g>
<g id="n38"><circle class="nd G" cx="886.3" cy="624.5" r="5.6"/><text class="lb" x="880.7" y="615.8">CG</text></g>
<g id="n39"><circle class="nd G" cx="878.6" cy="632.2" r="5.6"/><text class="lb" x="871.7" y="626.2">GS</text></g>
<g id="n40"><circle class="nd G" cx="871" cy="639.9" r="5.6"/><text class="lb" x="864" y="635.2">G</text></g>
<g id="n41"><circle class="nd G" cx="863.3" cy="647.5" r="5.6"/><text class="lb" x="851.7" y="657.5">G</text></g>
<g id="n42"><circle class="nd G" cx="847.9" cy="632.2" r="5.6"/><text class="lb" x="848.3" y="622.8">G</text></g>
<g id="n43"><circle class="nd G" cx="563.9" cy="348.1" r="5.6"/><text class="lm" x="558" y="337">G</text></g>
<g id="n44"><circle class="nd F" cx="886.3" cy="701.3" r="5.6"/><text class="lb" x="878.3" y="698.5">F</text></g>
<g id="n45"><circle class="nd F" cx="886.3" cy="732" r="5.6"/><text class="lb" x="878.3" y="727.5">F</text></g>
<g id="n46"><circle class="nd F" cx="886.3" cy="762.7" r="5.6"/><text class="lb" x="876.7" y="771.8">F</text></g>
<g id="n47"><circle class="nd F" cx="871" cy="747.3" r="5.6"/><text class="lb" x="861.7" y="756.8">F</text></g>
<g id="n48"><circle class="nd F" cx="855.6" cy="732" r="5.6"/><text class="lb" x="848.3" y="726.8">F</text></g>
<g id="n49"><circle class="nd F" cx="886.3" cy="808.8" r="5.6"/><text class="lb" x="877.3" y="820.8">F</text></g>
<g id="n50"><circle class="nd F" cx="878.6" cy="801.1" r="5.6"/><text class="lb" x="872.3" y="794.5">F</text></g>
<g id="n51"><circle class="nd F" cx="886.3" cy="854.8" r="5.6"/><text class="lb" x="863.3" y="867.5">TF</text></g>
<g id="n52"><circle class="nd F" cx="878.6" cy="847.2" r="5.6"/><text class="lb" x="879.3" y="835.8">F</text></g>
<g id="n53"><circle class="nd F" cx="855.6" cy="824.1" r="5.6"/><text class="lb" x="850" y="817.8">F</text></g>
<g id="n54"><circle class="nd F" cx="847.9" cy="831.8" r="5.6"/><text class="lb" x="838.3" y="828.5">F</text></g>
<g id="n55"><circle class="nd F" cx="886.3" cy="900.9" r="5.6"/><text class="lb" x="881.7" y="892.8">F</text></g>
<g id="n56"><circle class="nd F" cx="878.6" cy="908.6" r="5.6"/><text class="lb" x="871" y="900.2">F</text></g>
<g id="n57"><circle class="nd F" cx="871" cy="916.2" r="5.6"/><text class="lb" x="861.7" y="912.8">F</text></g>
<g id="n58"><circle class="nd F" cx="863.3" cy="923.9" r="5.6"/><text class="lb" x="847.3" y="915.2">GF</text></g>
<g id="n59"><circle class="nd F" cx="855.6" cy="931.6" r="5.6"/><text class="lb" x="845" y="926.8">F</text></g>
<g id="n60"><circle class="nd F" cx="847.9" cy="939.3" r="5.6"/><text class="lb" x="836.7" y="946.2">F</text></g>
<g id="n61"><circle class="nd F" cx="794.2" cy="885.5" r="5.6"/><text class="lb" x="796" y="873.5">F</text></g>
<g id="n62"><circle class="nd F" cx="748.1" cy="839.5" r="5.6"/><text class="lb" x="743.3" y="831.8">F</text></g>
<g id="n63"><circle class="nd B" cx="886.3" cy="1023.7" r="5.6"/><text class="lb" x="873.3" y="1035.8">BS</text></g>
<g id="n64"><circle class="nd B" cx="878.6" cy="1016.1" r="5.6"/><text class="lb" x="866" y="1019.2">B</text></g>
<g id="n65"><circle class="nd F" cx="725.1" cy="862.5" r="5.6"/><text class="lb" x="719.3" y="853.5">BF</text></g>
<g id="n66"><circle class="nd F" cx="886.3" cy="1069.8" r="5.6"/><text class="lb" x="873.3" y="1048.5">F</text></g>
<g id="n67"><circle class="nd F" cx="878.6" cy="1077.5" r="5.6"/><text class="lb" x="870" y="1088.5">F</text></g>
<g id="n68"><circle class="nd F" cx="871" cy="1069.8" r="5.6"/><text class="lb" x="858.3" y="1075.2">F</text></g>
<g id="n69"><circle class="nd F" cx="694.4" cy="893.2" r="5.6"/><text class="lb" x="694" y="882.8">F</text></g>
<g id="n70"><circle class="nd F" cx="356.6" cy="555.4" r="5.6"/><text class="lm" x="345.8" y="549">GF</text></g>
<g id="n71"><circle class="nd A" cx="886.3" cy="1115.8" r="5.6"/><text class="lb" x="878.3" y="1108.5">A</text></g>
<g id="n72"><circle class="nd F" cx="878.6" cy="1123.5" r="5.6"/><text class="lb" x="866.7" y="1119.5">AF</text></g>
<g id="n73"><circle class="nd F" cx="871" cy="1131.2" r="5.6"/><text class="lb" x="857.3" y="1135.2">F</text></g>
<g id="n74"><circle class="nd F" cx="325.9" cy="586.1" r="5.6"/><text class="lm" x="321" y="575">F</text></g>
<g id="n75"><g transform="translate(886.3 1177.3)"><circle r="5.6" class="G"/><use href="#s2" class="F"/><use href="#s3" class="C"/><circle r="5.6" class="ol"/></g><text class="lb" x="871.7" y="1170.8">GR</text></g>
<g id="n76"><g transform="translate(878.6 1185)"><circle r="5.6" class="G"/><use href="#s2" class="F"/><use href="#s3" class="C"/><circle r="5.6" class="ol"/></g><text class="lb" x="851.7" y="1186.2">CG/CF</text></g>
<g id="n77"><circle class="nd A" cx="886.3" cy="1223.3" r="5.6"/><text class="lb" x="880" y="1215.2">A</text></g>
<g id="n78"><circle class="nd A" cx="878.6" cy="1231" r="5.6"/><text class="lb" x="871.7" y="1223.5">A</text></g>
<g id="n79"><circle class="nd A" cx="871" cy="1238.7" r="5.6"/><text class="lb" x="863.3" y="1231.8">A</text></g>
<g id="n80"><circle class="nd A" cx="886.3" cy="1284.7" r="5.6"/><text class="lb" x="884" y="1273.5">A</text></g>
<g id="n81"><circle class="nd A" cx="855.6" cy="1254" r="5.6"/><text class="lb" x="856.7" y="1243.5">A</text></g>
<g id="n82"><g transform="translate(832.6 1231)"><circle r="5.6" class="F"/><use href="#s1" class="A"/><circle r="5.6" class="ol"/></g><text class="lb" x="830" y="1208.5">CA/GA/</text><text class="lb" x="833.3" y="1220.8">AF</text></g>
<g id="n83"><g transform="translate(824.9 1238.7)"><circle r="5.6" class="F"/><use href="#s1" class="A"/><circle r="5.6" class="ol"/></g><text class="lb" x="810" y="1254.2">A/AF</text></g>
<g id="n84"><g transform="translate(249.1 662.9)"><circle r="12.5" class="A"/><use href="#b1" class="N"/><use href="#b2" class="F"/><circle r="12.5" class="olb"/></g><text class="lm" x="239" y="645.5">F/AF</text></g>
<g id="n85"><circle class="nd R" cx="886.3" cy="1330.8" r="5.6"/><text class="lb" x="875" y="1324.2">R</text></g>
<g id="n86"><circle class="nd R" cx="878.6" cy="1338.5" r="5.6"/><text class="lb" x="863.3" y="1335.2">FR</text></g>
<g id="n87"><circle class="nd R" cx="871" cy="1346.2" r="5.6"/><text class="lb" x="857.7" y="1346.8">R</text></g>
<g id="n88"><circle class="nd N" cx="886.3" cy="1392.2" r="5.6"/><text class="lb" x="876.7" y="1387.5">N</text></g>
<g id="n89"><circle class="nd N" cx="886.3" cy="1422.9" r="5.6"/><text class="lb" x="875" y="1430.2">N</text></g>
<g id="n90"><circle class="nd N" cx="871" cy="1407.6" r="5.6"/><text class="lb" x="864.3" y="1400.8">N</text></g>
<g id="n91"><circle class="nd N" cx="886.3" cy="1453.6" r="5.6"/><text class="lb" x="875" y="1446.8">N</text></g>
<g id="n92"><circle class="nd N" cx="886.3" cy="1484.3" r="5.6"/><text class="lb" x="879.3" y="1477.5">N</text></g>
<g id="n93"><circle class="nd N" cx="886.3" cy="1515" r="5.6"/><text class="lb" x="865" y="1526.8">N</text></g>
<g id="n94"><circle class="nd N" cx="871" cy="1499.7" r="5.6"/><text class="lb" x="847.3" y="1511.8">N</text></g>
<g id="n95"><circle class="nd N" cx="855.6" cy="1484.3" r="5.6"/><text class="lb" x="854" y="1472.8">N</text></g>
<g id="n96"><circle class="nd N" cx="847.9" cy="1492" r="5.6"/><text class="lb" x="836.7" y="1500.8">N</text></g>
<g id="n97"><circle class="nd N" cx="817.2" cy="1461.3" r="5.6"/><text class="lb" x="806" y="1469.5">N</text></g>
<g id="n98"><circle class="nd N" cx="786.5" cy="1430.6" r="5.6"/><text class="lb" x="771.7" y="1438.5">NR</text></g>
<g id="n99"><circle class="nd N" cx="134" cy="778" r="5.6"/><text class="lm" x="123.3" y="766">NA/NF</text></g>
<g id="n100"><circle class="nd N" cx="886.3" cy="1591.8" r="5.6"/><text class="lb" x="876.7" y="1605.2">N</text></g>
<g id="n101"><circle class="nd N" cx="878.6" cy="1584.1" r="5.6"/><text class="lb" x="864" y="1593.5">N</text></g>
<g id="n102"><circle class="nd N" cx="871" cy="1576.5" r="5.6"/><text class="lb" x="855" y="1578.5">NC</text></g>
<g id="n103"><circle class="nd N" cx="103.3" cy="808.8" r="5.6"/><text class="lm" x="103.3" y="798.5">N</text></g>
<g id="n104"><circle class="nd T" cx="886.3" cy="1637.9" r="5.6"/><text class="lb" x="875" y="1650.2">TR</text></g>
<g id="n105"><circle class="nd T" cx="878.6" cy="1630.2" r="5.6"/><text class="lb" x="864" y="1633.5">T</text></g>
<g id="n106"><circle class="nd T" cx="80.2" cy="831.8" r="5.6"/><text class="lm" x="74" y="823">NT</text></g>
<g id="n107"><circle class="nd T" cx="886.3" cy="1668.6" r="5.6"/><text class="lb" x="871.7" y="1668.5">TR</text></g>
<g id="n108"><circle class="nd W" cx="886.3" cy="1714.6" r="5.6"/><text class="lb" x="876.7" y="1725.2">W</text></g>
<g id="n109"><circle class="nd W" cx="878.6" cy="1706.9" r="5.6"/><text class="lb" x="866" y="1712.8">W</text></g>
<g id="n110"><circle class="nd T" cx="863.3" cy="1691.6" r="5.6"/><text class="lb" x="853.3" y="1692.8">WT</text></g>
<g id="n111"><circle class="nd T" cx="41.9" cy="870.2" r="5.6"/><text class="lm" x="42.7" y="860">T</text></g>
<g id="n112"><circle class="nd T" cx="886.3" cy="1745.3" r="5.6"/><text class="lb" x="875" y="1755.2">T</text></g>
<g id="n113"><circle class="nd T" cx="26.5" cy="885.5" r="5.6"/><text class="lm" x="26.7" y="873">T</text></g>
</g>
<g id="branch-numbers">
<g id="c1"><circle class="nc" cx="469.3" cy="1356.7" r="23"/><text class="num" x="469.3" y="1367">1</text></g>
<g id="c2"><circle class="nc" cx="445.7" cy="1263.3" r="23"/><text class="num" x="445.7" y="1273.6">2</text></g>
<g id="c3"><circle class="nc" cx="413.3" cy="1166.7" r="23"/><text class="num" x="413.3" y="1177">3</text></g>
<g id="c4"><circle class="nc" cx="516" cy="1207.3" r="23"/><text class="num" x="516" y="1217.6">4</text></g>
<g id="c5"><circle class="nc" cx="827.4" cy="1379" r="23"/><text class="num" x="827.4" y="1389.3">5</text></g>
<g id="c6"><circle class="nc" cx="773" cy="1295.5" r="23"/><text class="num" x="773" y="1305.8">6</text></g>
<g id="c7"><circle class="nc" cx="550" cy="962" r="23"/><text class="num" x="550" y="972.3">7</text></g>
<g id="c8"><circle class="nc" cx="560" cy="836" r="23"/><text class="num" x="560" y="846.3">8</text></g>
<g id="c9"><circle class="nc" cx="801.7" cy="1001.7" r="23"/><text class="num" x="801.7" y="1012">9</text></g>
<g id="c10"><circle class="nc" cx="778.3" cy="925" r="23"/><text class="num" x="778.3" y="935.3">10</text></g>
<g id="c11"><circle class="nc" cx="680" cy="737" r="23"/><text class="num" x="680" y="747.3">11</text></g>
<g id="c12"><circle class="nc" cx="706" cy="503" r="23"/><text class="num" x="706" y="513.3">12</text></g>
<g id="c13"><circle class="nc" cx="711" cy="395" r="23"/><text class="num" x="711" y="405.3">13</text></g>
<g id="c14"><circle class="nc" cx="786.5" cy="369" r="23"/><text class="num" x="786.5" y="379.3">14</text></g>
<g id="c15"><circle class="nc" cx="583.3" cy="159.3" r="23"/><text class="num" x="583.3" y="169.6">15</text></g>
</g>
<g id="arrows">
<path class="arr" d="M602 172.7L677 226.5" marker-end="url(#ah)"/>
<path class="arr" d="M690.2 757.6L733.5 845" marker-end="url(#ah)"/>
<path class="arr" d="M778.6 1318.3L810.5 1445" marker-end="url(#ah)"/>
</g>
<g id="legend">
<rect x="101" y="1260" width="231" height="239" fill="#fff" stroke="#111" stroke-width="3"/>
<text class="lgt" x="107" y="1283">Character:</text>
<text class="lgt" x="107" y="1308">Parsimony reconstruction</text>
<text class="lgt" x="107" y="1333">(Unordered)</text>
<rect class="sw B" x="112" y="1341.7" width="18" height="10"/><text class="lgi" x="134.3" y="1351.2">B</text><text class="lgi" x="155" y="1351.2">Brazil</text>
<rect class="sw N" x="112" y="1357" width="18" height="10"/><text class="lgi" x="134.3" y="1366.5">N</text><text class="lgi" x="155" y="1366.5">North America</text>
<rect class="sw C" x="112" y="1372.3" width="18" height="10"/><text class="lgi" x="134.3" y="1381.8">C</text><text class="lgi" x="155" y="1381.8">Carribean / Central America</text>
<rect class="sw G" x="112" y="1387.6" width="18" height="10"/><text class="lgi" x="134.3" y="1397.1">G</text><text class="lgi" x="155" y="1397.1">N. Andes / Guiana Shield</text>
<rect class="sw S" x="112" y="1402.9" width="18" height="10"/><text class="lgi" x="134.3" y="1412.4">S</text><text class="lgi" x="157" y="1412.4">S. Andes</text>
<rect class="sw A" x="112" y="1418.2" width="18" height="10"/><text class="lgi" x="134.3" y="1427.7">A</text><text class="lgi" x="157" y="1427.7">Australia</text>
<rect class="sw W" x="112" y="1433.5" width="18" height="10"/><text class="lgi" x="134.3" y="1443">W</text><text class="lgi" x="155" y="1443">W. Europe</text>
<rect class="sw T" x="112" y="1448.8" width="18" height="10"/><text class="lgi" x="134.3" y="1458.3">T</text><text class="lgi" x="157" y="1458.3">Central Asia</text>
<rect class="sw F" x="112" y="1464.1" width="18" height="10"/><text class="lgi" x="134.3" y="1473.6">F</text><text class="lgi" x="157" y="1473.6">S. Africa</text>
<rect class="sw R" x="112" y="1479.4" width="18" height="10"/><text class="lgi" x="134.3" y="1488.9">R</text><text class="lgi" x="155" y="1488.9">N. Africa / Arabia</text>
</g>
</svg>
